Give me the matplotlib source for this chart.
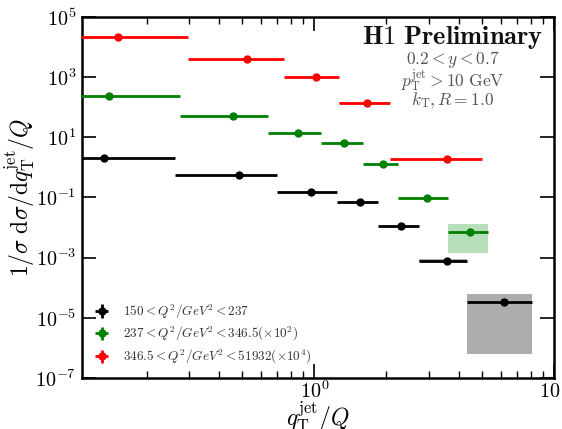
import matplotlib
matplotlib.use("Agg")
import matplotlib.pyplot as plt
from matplotlib.ticker import FixedLocator, FixedFormatter, NullLocator, LogLocator, NullFormatter
import numpy as np

plt.rcParams['mathtext.fontset'] = 'cm'
plt.rcParams['font.family'] = ['DejaVu Serif']

# ---- data ----
black_edges = [0.1, 0.261, 0.698, 1.24, 1.85, 2.73, 4.33, 8.07]
black_x = [0.132, 0.483, 0.97, 1.55, 2.29, 3.56, 6.21]
black_y = [2.1, 0.573, 0.156, 0.0724, 0.011, 7.9e-4, 3.35e-5]
black_scale = 1.0
black_sys_lo = [None, None, None, None, None, 7.2e-4, 6.1e-7]
black_sys_hi = [None, None, None, None, None, 8.7e-4, 6.3e-5]

green_edges = [0.1, 0.276, 0.638, 1.066, 1.59, 2.23, 3.61, 5.3]
green_x = [0.139, 0.458, 0.853, 1.33, 1.93, 2.94, 4.44]
green_y = [2.31, 0.499, 0.136, 0.066, 0.0130, 9.6e-4, 6.95e-5]
green_scale = 1e2
green_sys_lo = [None, None, None, None, None, None, 1.39e-5]
green_sys_hi = [None, None, None, None, None, None, 1.28e-4]

red_edges = [0.1, 0.298, 0.75, 1.27, 2.06, 5.0]
red_x = [0.151, 0.523, 1.016, 1.66, 3.56]
red_y = [2.2, 0.39, 0.100, 0.0138, 1.95e-4]
red_scale = 1e4
red_sys_lo = [None, None, None, 0.0125, None]
red_sys_hi = [None, None, None, 0.0152, None]

labels = [r'$150 < Q^2/GeV^2 < 237$',
          r'$237 < Q^2/GeV^2 < 346.5(\times 10^2)$',
          r'$346.5 < Q^2/GeV^2 < 51932(\times 10^4)$']
colors = ['black', 'green', 'red']
box_colors = [('#999999', 0.8), ('#4caf50', 0.4), ('#ff6060', 0.45)]

y_ticks = [1e-7, 1e-5, 1e-3, 1e-1, 1e1, 1e3, 1e5]
y_ticklabels = [r'$10^{-7}$', r'$10^{-5}$', r'$10^{-3}$', r'$10^{-1}$',
                r'$10^{1}$', r'$10^{3}$', r'$10^{5}$']
x_ticks = [1, 10]
x_ticklabels = [r'$10^{0}$', r'$10^{1}$']

fig = plt.figure(figsize=(5.62, 4.29), dpi=100)
ax = fig.add_axes([0.1454, 0.1189, 0.8404, 0.8415])
ax.set_xscale('log')
ax.set_yscale('log')

series = [
    (black_edges, black_x, black_y, black_scale, black_sys_lo, black_sys_hi),
    (green_edges, green_x, green_y, green_scale, green_sys_lo, green_sys_hi),
    (red_edges, red_x, red_y, red_scale, red_sys_lo, red_sys_hi),
]
handles = []
for i, (edges, xs, ys, sc, slo, shi) in enumerate(series):
    xs = np.array(xs)
    ys = np.array(ys) * sc
    lo = np.array(edges[:-1])
    hi = np.array(edges[1:])
    bc, ba = box_colors[i]
    for j in range(len(xs)):
        if slo[j] is not None:
            ax.fill_between([lo[j], hi[j]], [slo[j] * sc] * 2, [shi[j] * sc] * 2,
                            color=bc, alpha=ba, lw=0, zorder=1)
    h = ax.errorbar(xs, ys, xerr=[xs - lo, hi - xs], yerr=ys * 0.02, fmt='o',
                    color=colors[i], ms=5, elinewidth=2, capsize=0, zorder=3,
                    label=labels[i])
    handles.append(h)

ax.set_xlim(0.107, 10)
ax.set_ylim(1e-7, 1e5)

ax.yaxis.set_major_locator(FixedLocator(y_ticks))
ax.yaxis.set_major_formatter(FixedFormatter(y_ticklabels))
ax.yaxis.set_minor_locator(NullLocator())
ax.xaxis.set_major_locator(FixedLocator(x_ticks))
ax.xaxis.set_major_formatter(FixedFormatter(x_ticklabels))
ax.xaxis.set_minor_locator(LogLocator(base=10, subs=np.arange(2, 10)))
ax.xaxis.set_minor_formatter(NullFormatter())

ax.tick_params(which='both', direction='in', top=True, right=True, labelsize=14.5)
ax.tick_params(which='major', length=10, width=1.2)
ax.tick_params(axis='y', which='major', pad=4)
ax.tick_params(axis='x', which='major', pad=2)
ax.tick_params(which='minor', length=5, width=1.0)
for s in ax.spines.values():
    s.set_linewidth(1.8)

ax.set_xlabel(r'$q_{\mathrm{T}}^{\mathrm{jet}}/Q$', fontsize=17, labelpad=-2)
ax.set_ylabel(r'$1/\sigma\ \mathrm{d}\sigma/\mathrm{d}q_{\mathrm{T}}^{\mathrm{jet}}/Q$',
              fontsize=17, labelpad=-1)

ax.text(0.977, 0.942, r'$\mathbf{H1\ Preliminary}$', transform=ax.transAxes,
        ha='right', va='center', fontsize=19, color='#111111')
ax.text(0.786, 0.883, r'$0.2 < y < 0.7$', transform=ax.transAxes,
        ha='center', va='center', fontsize=12.5, color='#555555')
ax.text(0.786, 0.822, r'$p_{\mathrm{T}}^{\mathrm{jet}} > 10\ \mathrm{GeV}$', transform=ax.transAxes,
        ha='center', va='center', fontsize=12.5, color='#555555')
ax.text(0.786, 0.768, r'$k_{\mathrm{T}}, R = 1.0$', transform=ax.transAxes,
        ha='center', va='center', fontsize=12.5, color='#555555')

leg = ax.legend(handles=handles, loc='lower left', frameon=False, fontsize=9.5,
                handlelength=1.2, handletextpad=1.0, borderaxespad=0.5,
                labelspacing=0.35, bbox_to_anchor=(0.0, 0.0))
for t in leg.get_texts():
    t.set_color('#333333')

fig.savefig('out.png', dpi=100)
